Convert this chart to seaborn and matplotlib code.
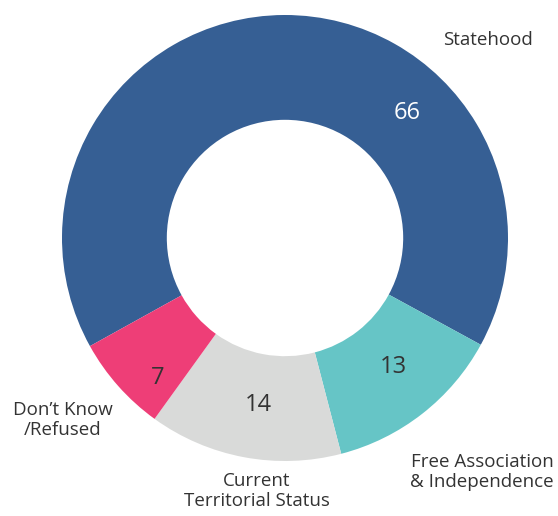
import matplotlib
matplotlib.use("Agg")
import matplotlib.pyplot as plt
import seaborn as sns

categories = ["Statehood", "Free Association\n& Independence", "Current\nTerritorial Status", "Don\u2019t Know\n/Refused"]
values = [66, 13, 14, 7]
value_labels = ["66", "13", "14", "7"]
colors = ["#365F94", "#66C5C6", "#D9DAD9", "#EE3E77"]

sns.set_theme(style="white")
plt.rcParams['font.family'] = ['Open Sans', 'DejaVu Sans']

W, H = 558, 516
fig = plt.figure(figsize=(W / 100, H / 100), dpi=100)
cx, cy, R = 285, 238, 223
ax = fig.add_axes([(cx - R) / W, (H - cy - R) / H, 2 * R / W, 2 * R / H])
ax.pie(values, colors=colors, startangle=209, counterclock=False,
       radius=1.0, wedgeprops=dict(width=0.47, linewidth=0))
ax.set_xlim(-1, 1)
ax.set_ylim(-1, 1)
ax.set_aspect("equal")
ax.axis("off")

def d(px, py):
    return (px - cx) / R, (cy - py) / R

val_pos = [(407, 113), (393, 367), (258, 405), (158, 378)]
val_col = ["white", "#333333", "#333333", "#333333"]
for t, p, c in zip(value_labels, val_pos, val_col):
    x, y = d(*p)
    ax.text(x, y, t, ha="center", va="center", fontsize=17, color=c, clip_on=False)

cat_pos = [(488, 40), (482, 472), (257, 491), (63, 420)]
for t, p in zip(categories, cat_pos):
    x, y = d(*p)
    ax.text(x, y, t, ha="center", va="center", fontsize=13.5, color="#333333",
            linespacing=1.1, clip_on=False)

fig.savefig("out.png", dpi=100)
